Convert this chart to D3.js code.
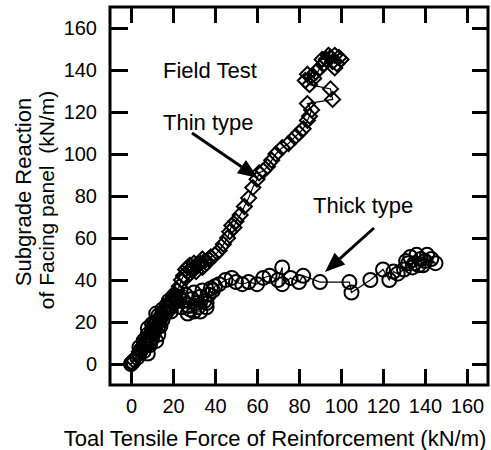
<!DOCTYPE html>
<html>
<head>
<meta charset="utf-8">
<script src="https://cdn.jsdelivr.net/npm/d3@7"></script>
<style>
  body { margin: 0; background: #fff; }
  text { font-family: "Liberation Sans", Arial, sans-serif; fill: #000; }
</style>
</head>
<body>
<div id="chart"></div>
<script>
// Data (kN/m)
const tickValues = [0, 20, 40, 60, 80, 100, 120, 140, 160];

const thinX = [0, 1, 3, 4, 5, 6, 7, 8, 9, 10, 11, 12, 12, 13, 14, 15, 16, 17, 18, 19, 20, 21, 22, 23, 24, 25, 26, 27, 28, 29, 30, 28, 26, 31, 32, 33, 34, 35, 36, 37, 34, 30, 27, 38, 40, 42, 44, 46, 47, 48, 49, 50, 52, 54, 56, 58, 60, 61, 63, 65, 67, 69, 72, 75, 78, 80, 82, 84, 85, 86, 84, 96, 95, 85, 83, 86, 84, 88, 87, 90, 92, 93, 95, 97, 99, 98, 96, 94, 91, 100, 97];
const thinY = [0, 2, 4, 6, 8, 7, 10, 12, 11, 14, 16, 18, 20, 22, 21, 24, 26, 25, 28, 30, 31, 33, 35, 37, 40, 42, 41, 44, 43, 45, 46, 47, 45, 44, 47, 48, 46, 49, 48, 50, 50, 48, 46, 51, 52, 54, 57, 60, 63, 66, 65, 68, 71, 75, 79, 84, 88, 91, 92, 94, 97, 100, 103, 105, 108, 110, 112, 116, 118, 121, 124, 126, 131, 133, 135, 137, 138, 139, 136, 141, 143, 145, 146, 147, 146, 143, 144, 147, 145, 145, 141];

const thickX = [0, 1, 3, 4, 5, 8, 6, 9, 7, 4, 7, 10, 8, 12, 9, 6, 10, 13, 11, 8, 11, 14, 12, 15, 13, 10, 13, 16, 14, 17, 15, 12, 16, 18, 17, 19, 18, 20, 19, 21, 20, 22, 23, 24, 25, 26, 27, 28, 29, 30, 31, 32, 33, 34, 35, 36, 37, 38, 30, 27, 33, 36, 39, 40, 42, 45, 48, 50, 53, 56, 60, 63, 66, 70, 72, 72, 76, 80, 82, 90, 104, 105, 114, 120, 123, 125, 127, 130, 132, 133, 135, 136, 138, 139, 141, 143, 145, 140, 137, 134, 131];
const thickY = [0, 1, 3, 5, 7, 5, 6, 9, 9, 8, 12, 12, 14, 11, 10, 11, 16, 14, 19, 17, 15, 18, 20, 21, 23, 19, 18, 24, 22, 25, 26, 24, 25, 27, 28, 25, 30, 29, 27, 31, 32, 30, 32, 27, 30, 33, 28, 26, 31, 34, 29, 27, 32, 35, 30, 27, 33, 36, 25, 24, 25, 29, 35, 37, 38, 40, 41, 39, 38, 39, 38, 41, 42, 40, 46, 38, 41, 39, 42, 39, 39, 34, 40, 45, 40, 44, 43, 45, 48, 51, 48, 52, 50, 47, 52, 50, 48, 49, 47, 46, 49];

const thin = thinX.map((x, i) => ({ x: x, y: thinY[i] }));
const thick = thickX.map((x, i) => ({ x: x, y: thickY[i] }));

const width = 491;
const height = 450;
const plot = { left: 110, top: 7, right: 488, bottom: 385 };

const svg = d3.select("#chart")
    .append("svg")
    .attr("width", width)
    .attr("height", height);

const xScale = d3.scaleLinear().domain([-10, 170]).range([plot.left, plot.right]);
const yScale = d3.scaleLinear().domain([-10, 170]).range([plot.bottom, plot.top]);

// axes with inward ticks on all four sides
function styleAxis(g, labels) {
    g.select(".domain").remove();
    g.selectAll(".tick line").attr("stroke", "#000").attr("stroke-width", 3);
    g.selectAll(".tick text")
        .style("font-size", "20px")
        .style("font-family", "'Liberation Sans', Arial, sans-serif")
        .attr("fill", "#000");
    if (!labels) g.selectAll(".tick text").remove();
}

svg.append("g")
    .attr("transform", `translate(0,${plot.bottom})`)
    .call(d3.axisBottom(xScale).tickValues(tickValues).tickSize(-16).tickPadding(14))
    .call(g => styleAxis(g, true));

svg.append("g")
    .attr("transform", `translate(0,${plot.top})`)
    .call(d3.axisTop(xScale).tickValues(tickValues).tickSize(-16))
    .call(g => styleAxis(g, false));

svg.append("g")
    .attr("transform", `translate(${plot.left},0)`)
    .call(d3.axisLeft(yScale).tickValues(tickValues).tickSize(-18).tickPadding(13))
    .call(g => styleAxis(g, true));

svg.append("g")
    .attr("transform", `translate(${plot.right},0)`)
    .call(d3.axisRight(yScale).tickValues(tickValues).tickSize(-16))
    .call(g => styleAxis(g, false));

svg.append("rect")
    .attr("x", plot.left)
    .attr("y", plot.top)
    .attr("width", plot.right - plot.left)
    .attr("height", plot.bottom - plot.top)
    .attr("fill", "none")
    .attr("stroke", "#000")
    .attr("stroke-width", 3);

const line = d3.line().x(d => xScale(d.x)).y(d => yScale(d.y));

// Thick type - circles
svg.append("path")
    .datum(thick)
    .attr("d", line)
    .attr("fill", "none")
    .attr("stroke", "#000")
    .attr("stroke-width", 1.2);

svg.selectAll(".thick")
    .data(thick)
    .enter()
    .append("circle")
    .attr("class", "thick")
    .attr("cx", d => xScale(d.x))
    .attr("cy", d => yScale(d.y))
    .attr("r", 7)
    .attr("fill", "none")
    .attr("stroke", "#000")
    .attr("stroke-width", 2);

// Thin type - diamonds
svg.append("path")
    .datum(thin)
    .attr("d", line)
    .attr("fill", "none")
    .attr("stroke", "#000")
    .attr("stroke-width", 1.2);

svg.selectAll(".thin")
    .data(thin)
    .enter()
    .append("path")
    .attr("class", "thin")
    .attr("transform", d => `translate(${xScale(d.x)},${yScale(d.y)})`)
    .attr("d", "M0,-7.5L7.5,0L0,7.5L-7.5,0Z")
    .attr("fill", "none")
    .attr("stroke", "#000")
    .attr("stroke-width", 2);

// annotations
svg.append("text").attr("x", 163).attr("y", 78).style("font-size", "22px").text("Field Test");
svg.append("text").attr("x", 163).attr("y", 130).style("font-size", "22px").text("Thin type");
svg.append("text").attr("x", 313).attr("y", 213).style("font-size", "22px").text("Thick type");

function arrow(x1, y1, x2, y2) {
    const ang = Math.atan2(y2 - y1, x2 - x1);
    const head = 20;
    const bx = x2 - head * Math.cos(ang), by = y2 - head * Math.sin(ang);
    svg.append("line")
        .attr("x1", x1).attr("y1", y1).attr("x2", bx).attr("y2", by)
        .attr("stroke", "#000").attr("stroke-width", 3);
    const w = 8;
    const px = -Math.sin(ang) * w, py = Math.cos(ang) * w;
    svg.append("path")
        .attr("d", `M${x2},${y2}L${bx + px},${by + py}L${bx - px},${by - py}Z`)
        .attr("fill", "#000");
}
arrow(192, 133, 258, 178);
arrow(374, 228, 325, 272);

// axis titles
svg.append("text")
    .attr("x", 275).attr("y", 446)
    .attr("text-anchor", "middle")
    .style("font-size", "22px")
    .text("Toal Tensile Force of Reinforcement (kN/m)");

svg.append("text")
    .attr("transform", "translate(31,192) rotate(-90)")
    .attr("text-anchor", "middle")
    .style("font-size", "22px")
    .text("Subgrade Reaction");

svg.append("text")
    .attr("transform", "translate(54,200) rotate(-90)")
    .attr("text-anchor", "middle")
    .attr("xml:space", "preserve")
    .style("white-space", "pre")
    .style("font-size", "21px")
    .text("of Facing panel  (kN/m)");
</script>
</body>
</html>
